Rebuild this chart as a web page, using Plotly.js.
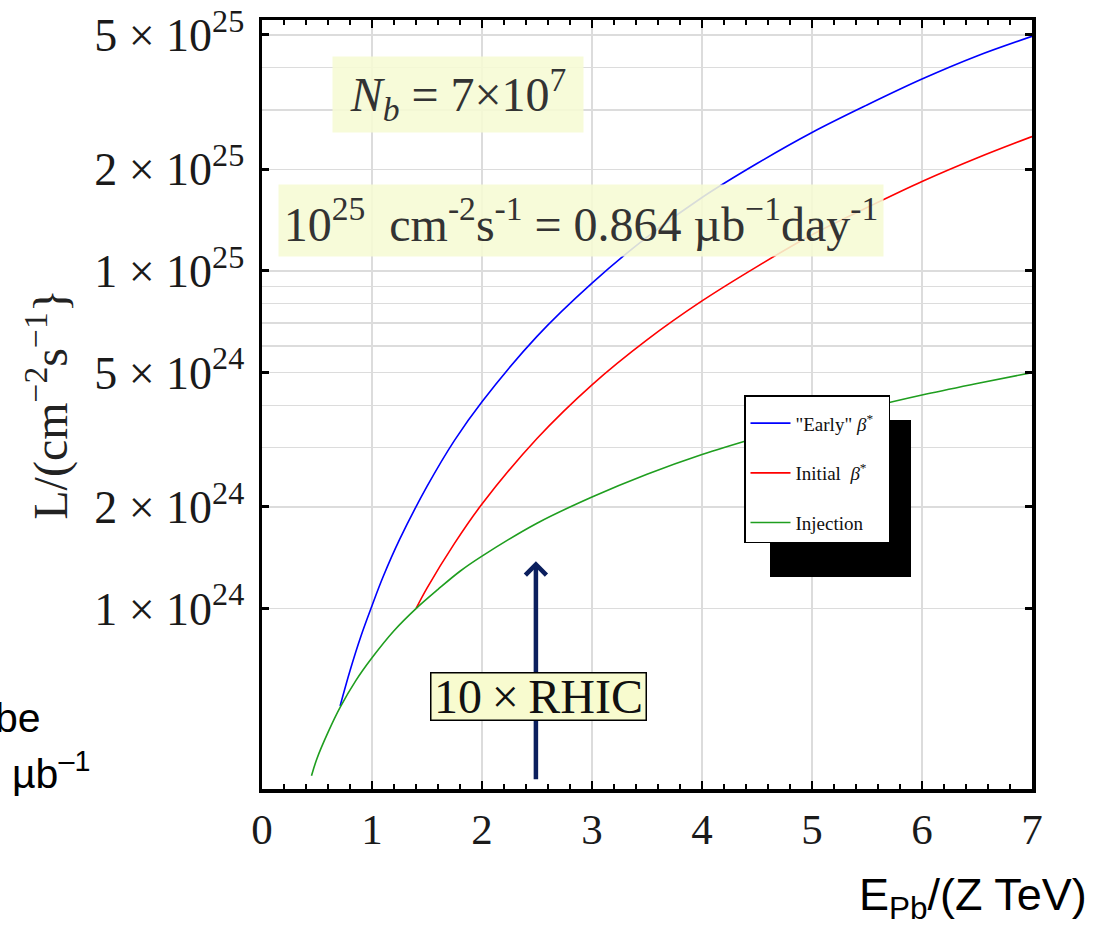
<!DOCTYPE html>
<html><head><meta charset="utf-8">
<script src="https://cdn.plot.ly/plotly-3.0.1.min.js"></script>
<style>html,body{margin:0;padding:0;background:#fff}#chart{width:1104px;height:926px}</style>
</head><body><div id="chart"></div>
<script>
// Energy per charge E_Pb/(Z TeV) and luminosity L (cm^-2 s^-1)
const energyEarly = [0.71,0.8,0.9,1.0,1.1,1.25,1.5,1.75,2.0,2.5,3.0,3.5,4.0,4.5,5.0,5.5,6.0,6.5,7.0];
const lumiEarly   = [5.15e23,6.55e23,8.3e23,1.02e24,1.24e24,1.6e24,2.3e24,3.15e24,4.1e24,6.4e24,9.2e24,1.26e25,1.65e25,2.08e25,2.57e25,3.1e25,3.7e25,4.33e25,4.95e25];

const energyInitial = [1.4,1.5,1.75,2.0,2.5,3.0,3.5,4.0,4.5,5.0,5.5,6.0,6.5,7.0];
const lumiInitial   = [1.0e24,1.15e24,1.56e24,2.04e24,3.19e24,4.6e24,6.25e24,8.15e24,1.03e25,1.28e25,1.54e25,1.84e25,2.16e25,2.5e25];

const energyInjection = [0.45,0.5,0.6,0.71,0.85,1.0,1.2,1.4,1.6,1.8,2.0,2.5,3.0,3.5,4.0,4.5,5.0,5.5,6.0,6.5,7.0];
const lumiInjection   = [3.2e23,3.6e23,4.3e23,5.1e23,6.1e23,7.15e23,8.6e23,1.0e24,1.14e24,1.29e24,1.43e24,1.79e24,2.14e24,2.5e24,2.86e24,3.21e24,3.57e24,3.93e24,4.29e24,4.64e24,5.0e24];

const seriesNames = ['"Early" <i>β</i><sup>*</sup>\u00a0\u00a0', 'Initial\u00a0\u00a0<i>β</i><sup>*</sup>', 'Injection'];

const xTickVals = [0,1,2,3,4,5,6,7];
const xTickText = ['0','1','2','3','4','5','6','7'];
const yTickVals = [1e24,2e24,5e24,1e25,2e25,5e25];
const yTickText = ['1 × 10<sup>24</sup>','2 × 10<sup>24</sup>','5 × 10<sup>24</sup>','1 × 10<sup>25</sup>','2 × 10<sup>25</sup>','5 × 10<sup>25</sup>'];
const yGridExtra = [3e24,4e24,6e24,7e24,8e24,9e24,3e25,4e25];

const serif = 'Liberation Serif, Times New Roman, serif';
const sans = 'Liberation Sans, Arial, sans-serif';

const traces = [
  {x: energyEarly, y: lumiEarly, name: seriesNames[0], legendgroup:'g1', mode:'lines', line:{color:'#0000ff', width:1.6, shape:'spline'}},
  {x: energyInitial, y: lumiInitial, name: seriesNames[1], legendgroup:'g2', mode:'lines', line:{color:'#ff0000', width:1.6, shape:'spline'}},
  {x: energyInjection, y: lumiInjection, name: seriesNames[2], legendgroup:'g3', mode:'lines', line:{color:'#1f9e1f', width:1.6, shape:'spline'}}
];

const L = 262, R = 1032, T = 20, B = 789, W = 1104, H = 926;
const px = v => (v - L) / (R - L);
const py = v => (B - v) / (B - T);

const layout = {
  width: W, height: H,
  margin: {l: L, r: W - R, t: T, b: H - B, pad: 0},
  paper_bgcolor: '#fff', plot_bgcolor: '#fff',
  showlegend: true,
  legend: {
    x: px(744), y: py(395), xanchor: 'left', yanchor: 'top',
    bgcolor: '#fff', bordercolor: '#000', borderwidth: 1.5,
    font: {family: serif, size: 19, color: '#111'},
    title: {text: ' ', font: {family: serif, size: 6}},
    traceorder: 'grouped', tracegroupgap: 22, itemwidth: 40
  },
  xaxis: {
    range: [0, 7], tickmode: 'array', tickvals: xTickVals, ticktext: xTickText,
    ticks: 'inside', ticklen: 8, tickwidth: 2.5, tickcolor: '#000',
    showline: true, linewidth: 3.5, linecolor: '#000', mirror: 'ticks',
    showgrid: true, gridcolor: '#dcdcdc', gridwidth: 1.5, zeroline: false,
    minor: {dtick: 0.2, tick0: 0, ticks: 'inside', ticklen: 5, tickwidth: 2, tickcolor: '#000', showgrid: false},
    tickfont: {family: serif, size: 43, color: '#1a1a1a'},
    ticklabelstandoff: 0
  },
  yaxis: {
    type: 'log', range: [23.4658, 25.743],
    tickmode: 'array', tickvals: yTickVals, ticktext: yTickText,
    ticks: 'inside', ticklen: 7, tickwidth: 3, tickcolor: '#000',
    showline: true, linewidth: 3.5, linecolor: '#000', mirror: 'ticks',
    showgrid: true, gridcolor: '#dcdcdc', gridwidth: 1.5, zeroline: false,
    minor: {tickmode: 'array', tickvals: yGridExtra, ticks: '', showgrid: true, gridcolor: '#dcdcdc', gridwidth: 1.5},
    tickfont: {family: serif, size: 46, color: '#1a1a1a'},
    ticklabelstandoff: 5,
    title: {text: 'L/(cm<sup>−2</sup>s<sup>−1</sup>}', font: {family: serif, size: 48, color: '#222'}, standoff: 12}
  },
  shapes: [
    {type: 'rect', xref: 'paper', yref: 'paper', x0: px(770), x1: px(911), y0: py(577), y1: py(420),
     fillcolor: '#000', line: {width: 0}, layer: 'above'}
  ],
  annotations: [
    {xref: 'x', yref: 'y', axref: 'x', ayref: 'y', x: 2.49, y: 24.14, ax: 2.49, ay: 23.49,
     text: '', showarrow: true, arrowhead: 4, arrowsize: 0.9, arrowwidth: 4.5, arrowcolor: '#0b1f5e', standoff: 0, startstandoff: 0},
    {xref: 'paper', yref: 'paper', x: px(538.5), y: py(696.5), xanchor: 'center', yanchor: 'middle',
     text: '10\u2009×\u2009RHIC', showarrow: false, font: {family: serif, size: 48, color: '#111'},
     bgcolor: '#f8fbcf', bordercolor: '#000', borderwidth: 1.5, borderpad: 0, width: 214, height: 46},
    {xref: 'paper', yref: 'paper', x: px(457.5), y: py(94.5), xanchor: 'center', yanchor: 'middle',
     text: '<i>N</i><sub><i>b</i></sub> = 7×10<sup>7</sup>', showarrow: false,
     font: {family: serif, size: 48, color: '#333'},
     bgcolor: 'rgba(246,250,212,0.88)', borderpad: 0, width: 250, height: 75},
    {xref: 'paper', yref: 'paper', x: px(580.5), y: py(220.5), xanchor: 'center', yanchor: 'middle',
     text: '10<sup>25</sup>\u00a0 cm<sup>-2</sup>s<sup>-1</sup> = 0.864 µb<sup>−1</sup>day<sup>-1</sup>', showarrow: false,
     font: {family: serif, size: 48, color: '#333'},
     bgcolor: 'rgba(246,250,212,0.88)', borderpad: 0, width: 604, height: 71},
    {xref: 'paper', yref: 'paper', x: px(1089), y: py(897), xanchor: 'right', yanchor: 'middle',
     text: 'E<sub>Pb</sub>/(Z TeV)', showarrow: false, font: {family: sans, size: 45, color: '#000'}},
    {xref: 'paper', yref: 'paper', x: px(43), y: py(718), xanchor: 'right', yanchor: 'middle',
     text: 'be', showarrow: false, font: {family: sans, size: 41, color: '#000'}},
    {xref: 'paper', yref: 'paper', x: px(10), y: py(771), xanchor: 'left', yanchor: 'middle',
     text: 'µb<sup>–1</sup>', showarrow: false, font: {family: sans, size: 41, color: '#000'}}
  ]
};

Plotly.newPlot('chart', traces, layout, {staticPlot: true, displayModeBar: false});
</script>
</body></html>
